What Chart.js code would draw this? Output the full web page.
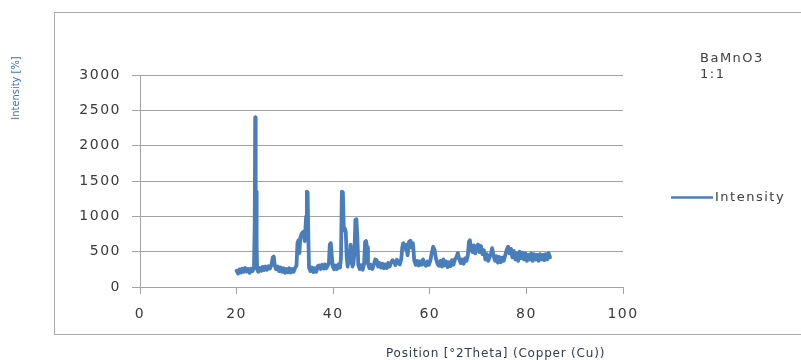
<!DOCTYPE html>
<html>
<head>
<meta charset="utf-8">
<script src="https://cdn.jsdelivr.net/npm/chart.js@4.4.1/dist/chart.umd.min.js"></script>
<style>
  html, body { margin: 0; padding: 0; background: #ffffff; }
  #wrap { width: 801px; height: 360px; position: relative; }
</style>
</head>
<body>
<div id="wrap"><canvas id="xrd" width="801" height="360"></canvas></div>
<script>
// Diffraction scan: position (°2θ) and measured intensity
const twoTheta = [
  20.0, 20.3, 20.6, 20.9, 21.2, 21.5, 21.8, 22.1, 22.4, 22.7, 23.0, 23.3, 23.6,
  23.75, 23.85, 23.95, 24.05, 24.15, 24.25, 24.5, 24.8, 25.1, 25.4, 25.7, 26.0,
  26.3, 26.6, 26.9, 27.2, 27.5, 27.7, 27.9, 28.2, 28.5, 28.8, 29.1, 29.4, 29.7,
  30.0, 30.3, 30.6, 30.9, 31.2, 31.5, 31.8, 32.1, 32.4, 32.6, 32.8, 33.0, 33.2,
  33.5, 33.8, 34.1, 34.4, 34.55, 34.7, 34.85, 35.0, 35.3, 35.6, 35.9, 36.2, 36.5,
  36.8, 37.1, 37.4, 37.7, 38.0, 38.3, 38.6, 38.9, 39.1, 39.3, 39.5, 39.7, 39.9,
  40.2, 40.5, 40.8, 41.1, 41.4, 41.6, 41.8, 42.0, 42.2, 42.4, 42.6, 42.8, 43.0,
  43.2, 43.4, 43.6, 43.8, 44.0, 44.2, 44.4, 44.6, 44.8, 45.0, 45.2, 45.5, 45.8,
  46.1, 46.4, 46.6, 46.8, 47.0, 47.2, 47.5, 47.8, 48.1, 48.4, 48.7, 49.0, 49.3,
  49.6, 49.9, 50.2, 50.5, 50.8, 51.1, 51.4, 51.7, 52.0, 52.3, 52.6, 52.9, 53.2,
  53.5, 53.8, 54.1, 54.3, 54.5, 54.8, 55.1, 55.4, 55.7, 56.0, 56.2, 56.5, 56.8,
  57.1, 57.4, 57.7, 58.0, 58.3, 58.6, 58.9, 59.2, 59.5, 59.8, 60.1, 60.4, 60.7,
  61.0, 61.3, 61.6, 61.9, 62.2, 62.5, 62.8, 63.1, 63.4, 63.7, 64.0, 64.3, 64.6,
  64.9, 65.2, 65.5, 65.8, 66.1, 66.4, 66.7, 67.0, 67.3, 67.6, 67.9, 68.1, 68.3,
  68.5, 68.8, 69.1, 69.4, 69.7, 70.0, 70.3, 70.6, 70.9, 71.2, 71.5, 71.8, 72.1,
  72.4, 72.7, 72.9, 73.2, 73.5, 73.8, 74.1, 74.4, 74.7, 75.0, 75.3, 75.6, 75.9,
  76.2, 76.5, 76.8, 77.1, 77.4, 77.7, 78.0, 78.3, 78.6, 78.9, 79.2, 79.5, 79.8,
  80.1, 80.4, 80.7, 81.0, 81.3, 81.6, 81.9, 82.2, 82.5, 82.8, 83.1, 83.4, 83.7,
  84.0, 84.3, 84.6, 84.9
];
const intensity = [
  230, 190, 250, 205, 260, 215, 270, 220, 255, 200, 260, 225, 280,
  900, 2400, 1300, 1350, 600, 250, 215, 270, 230, 285, 240, 290,
  245, 295, 260, 310, 420, 430, 300, 250, 290, 225, 275, 215, 265,
  200, 255, 210, 265, 205, 255, 215, 270, 300, 620, 660, 480, 700,
  760, 780, 650, 1000, 1350, 1340, 700, 270, 225, 275, 210, 265, 215,
  295, 305, 255, 315, 260, 320, 265, 310, 330, 600, 620, 450, 290,
  250, 305, 255, 320, 275, 400, 1350, 1340, 800, 830, 780, 420, 290,
  480, 340, 600, 430, 290, 330, 500, 950, 960, 700, 310, 255, 310,
  245, 330, 640, 650, 560, 330, 265, 315, 255, 310, 390, 380, 290,
  340, 275, 330, 265, 320, 270, 340, 290, 350, 380, 355, 310, 385,
  340, 320, 400, 560, 620, 540, 600, 450, 640, 655, 560, 620, 370,
  315, 370, 305, 360, 315, 390, 325, 300, 360, 315, 370, 480, 570,
  520, 395, 325, 300, 370, 290, 390, 305, 360, 280, 350, 295, 380,
  315, 390, 420, 480, 395, 340, 390, 330, 405, 370, 460, 640, 660,
  560, 495, 590, 475, 560, 600, 495, 580, 465, 520, 390, 465, 370,
  425, 480, 550, 445, 370, 435, 345, 425, 350, 415, 370, 445, 520,
  570, 475, 540, 420, 510, 390, 475, 370, 500, 410, 485, 390, 475,
  370, 455, 390, 475, 370, 465, 390, 455, 370, 465, 390, 455, 380,
  465, 390, 480, 420
];

const seriesName = 'Intensity';
const sampleTitle = ['BaMnO3', '1:1'];
const xTitle = 'Position [°2Theta] (Copper (Cu))';
const yTitle = 'Intensity [%]';
const xTickValues = [0, 20, 40, 60, 80, 100];
const yTickValues = [0, 500, 1000, 1500, 2000, 2500, 3000];

const lineBlue = '#4a7ebb';
const gridGray = '#a3a3a3';
const labelInk = '#3a3a3a';

const points = twoTheta.map((t, i) => ({ x: t, y: intensity[i] }));

// Frame, sample name, legend and axis titles around the plot
const decorations = {
  id: 'decorations',
  beforeDraw(chart) {
    const ctx = chart.ctx;
    ctx.save();
    ctx.strokeStyle = '#a8a8a8';
    ctx.lineWidth = 1;
    ctx.strokeRect(54.5, 12.5, 800, 322);
    ctx.restore();
    ctx.letterSpacing = '1.5px';
  },
  afterDraw(chart) {
    const ctx = chart.ctx;
    ctx.save();

    // sample name
    ctx.font = '13px "DejaVu Sans"';
    ctx.letterSpacing = '1.5px';
    ctx.fillStyle = '#404040';
    ctx.textAlign = 'left';
    ctx.textBaseline = 'middle';
    sampleTitle.forEach((s, i) => ctx.fillText(s, 700, 59 + i * 16));

    // legend
    const ds = chart.data.datasets[0];
    ctx.strokeStyle = ds.borderColor;
    ctx.lineWidth = 2.5;
    ctx.beginPath();
    ctx.moveTo(671, 197.5);
    ctx.lineTo(713, 197.5);
    ctx.stroke();
    ctx.fillText(ds.label, 715, 198);

    // x axis title
    ctx.font = '12px "DejaVu Sans"';
    ctx.letterSpacing = '0.8px';
    ctx.fillStyle = '#2e3b52';
    ctx.textAlign = 'left';
    ctx.fillText(xTitle, 386, 354);

    // y axis title
    ctx.translate(16, 88);
    ctx.rotate(-Math.PI / 2);
    ctx.font = '11px "DejaVu Sans Condensed", "Liberation Sans", sans-serif';
    ctx.letterSpacing = '0px';
    ctx.fillStyle = '#3f72b5';
    ctx.textAlign = 'center';
    ctx.fillText(yTitle, 0, 0);

    ctx.restore();
    ctx.letterSpacing = '0px';
  }
};

new Chart(document.getElementById('xrd'), {
  type: 'line',
  data: {
    datasets: [{
      label: seriesName,
      data: points,
      borderColor: lineBlue,
      backgroundColor: lineBlue,
      borderWidth: 3.8,
      pointRadius: 0,
      tension: 0,
      borderJoinStyle: 'round',
      borderCapStyle: 'round',
      fill: false
    }]
  },
  options: {
    responsive: false,
    animation: false,
    devicePixelRatio: 1,
    layout: { padding: { left: 0, right: 178, top: 75, bottom: 0 } },
    plugins: {
      legend: { display: false },
      tooltip: { enabled: false },
      title: { display: false }
    },
    scales: {
      x: {
        type: 'linear',
        min: 0,
        max: 100,
        afterFit: s => { s.height = 73; },
        afterBuildTicks: s => { s.ticks = xTickValues.map(v => ({ value: v })); },
        grid: { drawOnChartArea: false, drawTicks: true, tickLength: 7, color: gridGray, lineWidth: 1 },
        border: { color: gridGray, width: 1 },
        ticks: {
          font: { family: 'DejaVu Sans', size: 14 },
          color: labelInk,
          padding: 12,
          maxRotation: 0,
          callback: v => String(v)
        }
      },
      y: {
        type: 'linear',
        min: 0,
        max: 3000,
        afterFit: s => { s.width = 140; },
        afterBuildTicks: s => { s.ticks = yTickValues.map(v => ({ value: v })); },
        grid: { color: gridGray, lineWidth: 1, tickLength: 8 },
        border: { color: gridGray, width: 1 },
        ticks: {
          font: { family: 'DejaVu Sans', size: 14 },
          color: labelInk,
          padding: 11,
          callback: v => String(v)
        }
      }
    }
  },
  plugins: [decorations]
});
</script>
</body>
</html>
